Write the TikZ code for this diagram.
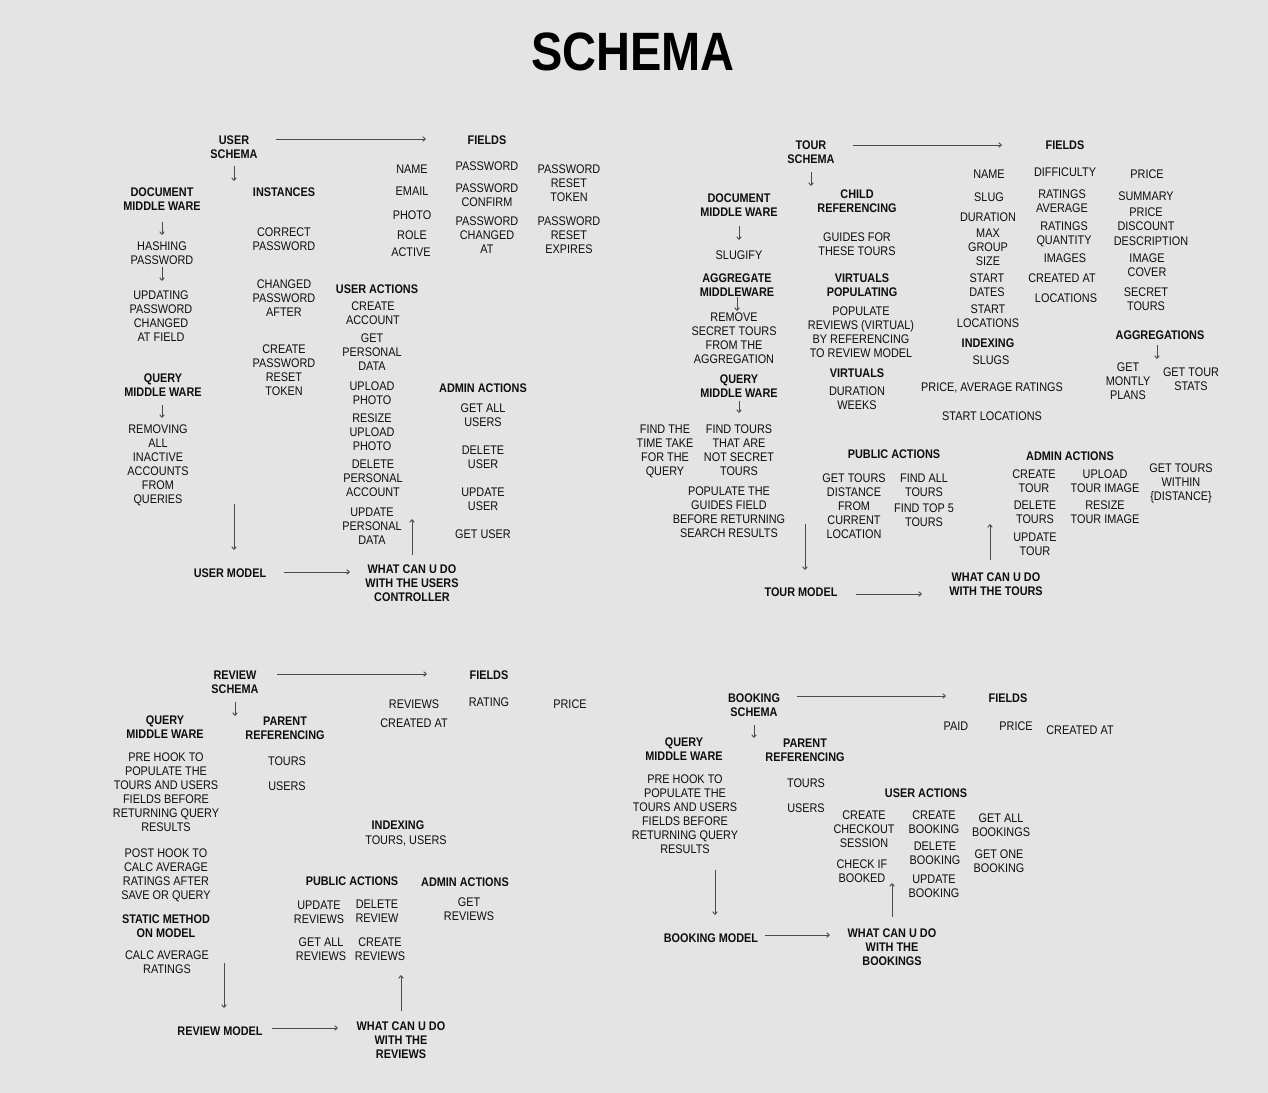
\documentclass[tikz,border=0pt]{standalone}
\usepackage{fontspec}
\setmainfont{Liberation Sans}[FakeStretch=0.87]
\usetikzlibrary{arrows.meta}
\definecolor{bg}{HTML}{E4E4E4}
\definecolor{ink}{HTML}{0E0E0E}
\definecolor{wire}{HTML}{4A4A4A}
\tikzset{
  txt/.style={align=center, inner sep=0pt, text=ink, font=\fontsize{12.5}{14}\selectfont},
  hd/.style={align=center, inner sep=0pt, text=ink, font=\fontsize{12.5}{14}\selectfont\bfseries},
  ttlstyle/.style={inner sep=0pt, text=black, font=\fontsize{54}{60}\selectfont\bfseries},
  arr/.style={draw=wire, line width=0.9pt, -{Straight Barb[length=2.6pt,width=4.6pt]}}
}
\begin{document}
\begin{tikzpicture}[x=1pt,y=-1pt]
\useasboundingbox (0,0) rectangle (1268,1092);
% background reaches past the page edges so no seam is left
\fill[bg] (-6,-6) rectangle (1274,1098);

\node[ttlstyle] (ttl) at (633,52) {SCHEMA};

% ---------------- user schema ----------------
\node[hd]  (uschema) at (234,147) {USER\\SCHEMA};
\node[hd]  (ufields) at (487,140) {FIELDS};
\node[txt] (ufname)  at (412,169) {NAME};
\node[txt] (ufemail) at (412,191) {EMAIL};
\node[txt] (ufphoto) at (412,215) {PHOTO};
\node[txt] (ufrole)  at (412,235) {ROLE};
\node[txt] (ufactive) at (411,252) {ACTIVE};
\node[txt] (ufpw)    at (487,166) {PASSWORD};
\node[txt] (ufpwc)   at (487,195) {PASSWORD\\CONFIRM};
\node[txt] (ufpwch)  at (487,235) {PASSWORD\\CHANGED\\AT};
\node[txt] (ufprt)   at (569,183) {PASSWORD\\RESET\\TOKEN};
\node[txt] (ufpre)   at (569,235) {PASSWORD\\RESET\\EXPIRES};
\node[hd]  (udoc)    at (162,199) {DOCUMENT\\MIDDLE WARE};
\node[txt] (uhash)   at (162,253) {HASHING\\PASSWORD};
\node[txt] (uupd)    at (161,316) {UPDATING\\PASSWORD\\CHANGED\\AT FIELD};
\node[hd]  (uquery)  at (163,385) {QUERY\\MIDDLE WARE};
\node[txt] (uremove) at (158,465) {REMOVING\\ALL\\INACTIVE\\ACCOUNTS\\FROM\\QUERIES};
\node[hd]  (uinst)   at (284,192) {INSTANCES};
\node[txt] (ucorr)   at (284,239) {CORRECT\\PASSWORD};
\node[txt] (uchg)    at (284,298) {CHANGED\\PASSWORD\\AFTER};
\node[txt] (ucreate) at (284,370) {CREATE\\PASSWORD\\RESET\\TOKEN};
\node[hd]  (uact)    at (377,289) {USER ACTIONS};
\node[txt] (uacc)    at (373,313) {CREATE\\ACCOUNT};
\node[txt] (uget)    at (372,352) {GET\\PERSONAL\\DATA};
\node[txt] (uup)     at (372,393) {UPLOAD\\PHOTO};
\node[txt] (ures)    at (372,432) {RESIZE\\UPLOAD\\PHOTO};
\node[txt] (udel)    at (373,478) {DELETE\\PERSONAL\\ACCOUNT};
\node[txt] (updd)    at (372,526) {UPDATE\\PERSONAL\\DATA};
\node[hd]  (uadm)    at (483,388) {ADMIN ACTIONS};
\node[txt] (ugetall) at (483,415) {GET ALL\\USERS};
\node[txt] (udelu)   at (483,457) {DELETE\\USER};
\node[txt] (uupdu)   at (483,499) {UPDATE\\USER};
\node[txt] (ugetu)   at (483,534) {GET USER};
\node[hd]  (umodel)  at (230,573) {USER MODEL};
\node[hd]  (uwhat)   at (412,583) {WHAT CAN U DO\\WITH THE USERS\\CONTROLLER};

\draw[arr] ([shift={(42,-8)}]uschema.center) -- ([shift={(-61,-1)}]ufields.center);
\draw[arr] ([shift={(0,19)}]uschema.center) -- ([shift={(72,-18)}]udoc.center);
\draw[arr] ([shift={(0,23)}]udoc.center) -- ([shift={(0,-18)}]uhash.center);
\draw[arr] ([shift={(0,14)}]uhash.center) -- ([shift={(1,-35)}]uupd.center);
\draw[arr] ([shift={(-1,20)}]uquery.center) -- ([shift={(4,-47)}]uremove.center);
\draw[arr] ([shift={(76,39)}]uremove.center) -- ([shift={(4,-23)}]umodel.center);
\draw[arr] ([shift={(54,-1)}]umodel.center) -- ([shift={(-62,-11)}]uwhat.center);
\draw[arr] ([shift={(0,-28)}]uwhat.center) -- ([shift={(40,-7)}]updd.center);

% ---------------- tour schema ----------------
\node[hd]  (tschema) at (811,152) {TOUR\\SCHEMA};
\node[hd]  (tfields) at (1065,145) {FIELDS};
\node[hd]  (tdoc)    at (739,205) {DOCUMENT\\MIDDLE WARE};
\node[txt] (tslug)   at (739,255) {SLUGIFY};
\node[hd]  (tagg)    at (737,285) {AGGREGATE\\MIDDLEWARE};
\node[txt] (tremove) at (734,338) {REMOVE\\SECRET TOURS\\FROM THE\\AGGREGATION};
\node[hd]  (tquery)  at (739,386) {QUERY\\MIDDLE WARE};
\node[txt] (ttime)   at (665,451) {FIND THE\\TIME TAKE\\FOR THE\\QUERY};
\node[txt] (tfind)   at (739,450) {FIND TOURS\\THAT ARE\\NOT SECRET\\TOURS};
\node[txt] (tpop)    at (729,512) {POPULATE THE\\GUIDES FIELD\\BEFORE RETURNING\\SEARCH RESULTS};
\node[hd]  (tchild)  at (857,201) {CHILD\\REFERENCING};
\node[txt] (tguides) at (857,244) {GUIDES FOR\\THESE TOURS};
\node[hd]  (tvpop)   at (862,285) {VIRTUALS\\POPULATING};
\node[txt] (tvpopx)  at (861,332) {POPULATE\\REVIEWS (VIRTUAL)\\BY REFERENCING\\TO REVIEW MODEL};
\node[hd]  (tvirt)   at (857,373) {VIRTUALS};
\node[txt] (tdur)    at (857,398) {DURATION\\WEEKS};
\node[txt] (tfname)  at (989,174) {NAME};
\node[txt] (tfslug)  at (989,197) {SLUG};
\node[txt] (tfdur)   at (988,217) {DURATION};
\node[txt] (tfmax)   at (988,247) {MAX\\GROUP\\SIZE};
\node[txt] (tfsd)    at (987,285) {START\\DATES};
\node[txt] (tfsl)    at (988,316) {START\\LOCATIONS};
\node[txt] (tfdiff)  at (1065,172) {DIFFICULTY};
\node[txt] (tfra)    at (1062,201) {RATINGS\\AVERAGE};
\node[txt] (tfrq)    at (1064,234) {RATINGS\\QUANTITY};
\node[txt] (tfimg)   at (1065,258) {IMAGES};
\node[txt] (tfcr)    at (1062,278) {CREATED AT};
\node[txt] (tfloc)   at (1066,298) {LOCATIONS};
\node[txt] (tfprice) at (1147,174) {PRICE};
\node[txt] (tfsum)   at (1146,196) {SUMMARY};
\node[txt] (tfpd)    at (1146,219) {PRICE\\DISCOUNT};
\node[txt] (tfdesc)  at (1151,241) {DESCRIPTION};
\node[txt] (tfcov)   at (1147,265) {IMAGE\\COVER};
\node[txt] (tfsec)   at (1146,299) {SECRET\\TOURS};
\node[hd]  (tidx)    at (988,343) {INDEXING};
\node[txt] (tislug)  at (991,360) {SLUGS};
\node[txt] (tipr)    at (992,388) {PRICE, AVERAGE RATINGS};
\node[txt] (tisl)    at (992,416) {START LOCATIONS};
\node[hd]  (tagr)    at (1160,335) {AGGREGATIONS};
\node[txt] (tplans)  at (1128,381) {GET\\MONTLY\\PLANS};
\node[txt] (tstats)  at (1191,379) {GET TOUR\\STATS};
\node[hd]  (tpub)    at (894,454) {PUBLIC ACTIONS};
\node[txt] (tdist)   at (854,506) {GET TOURS\\DISTANCE\\FROM\\CURRENT\\LOCATION};
\node[txt] (tall)    at (924,485) {FIND ALL\\TOURS};
\node[txt] (ttop)    at (924,515) {FIND TOP 5\\TOURS};
\node[hd]  (tadm)    at (1070,456) {ADMIN ACTIONS};
\node[txt] (tcreate) at (1034,481) {CREATE\\TOUR};
\node[txt] (tdelete) at (1035,512) {DELETE\\TOURS};
\node[txt] (tupdate) at (1035,544) {UPDATE\\TOUR};
\node[txt] (tupl)    at (1105,481) {UPLOAD\\TOUR IMAGE};
\node[txt] (tres)    at (1105,512) {RESIZE\\TOUR IMAGE};
\node[txt] (twithin) at (1181,483) {GET TOURS\\WITHIN\\\{DISTANCE\}};
\node[hd]  (tmodel)  at (801,592) {TOUR MODEL};
\node[hd]  (twhat)   at (996,584) {WHAT CAN U DO\\WITH THE TOURS};

\draw[arr] ([shift={(42,-7)}]tschema.center) -- ([shift={(-63,0)}]tfields.center);
\draw[arr] ([shift={(0,20)}]tschema.center) -- ([shift={(-46,-15)}]tchild.center);
\draw[arr] ([shift={(0,21)}]tdoc.center) -- ([shift={(0,-15)}]tslug.center);
\draw[arr] ([shift={(0,12)}]tagg.center) -- ([shift={(3,-27)}]tremove.center);
\draw[arr] ([shift={(0,15)}]tquery.center) -- ([shift={(0,-37)}]tfind.center);
\draw[arr] ([shift={(-3,10)}]tagr.center) -- ([shift={(29,-22)}]tplans.center);
\draw[arr] ([shift={(76,12)}]tpop.center) -- ([shift={(4,-22)}]tmodel.center);
\draw[arr] ([shift={(55,2)}]tmodel.center) -- ([shift={(-74,10)}]twhat.center);
\draw[arr] ([shift={(-6,-24)}]twhat.center) -- ([shift={(-45,-20)}]tupdate.center);

% ---------------- review schema ----------------
\node[hd]  (rschema) at (235,682) {REVIEW\\SCHEMA};
\node[hd]  (rfields) at (489,675) {FIELDS};
\node[txt] (rfrev)   at (414,704) {REVIEWS};
\node[txt] (rfcr)    at (414,723) {CREATED AT};
\node[txt] (rfrat)   at (489,702) {RATING};
\node[txt] (rfpr)    at (570,704) {PRICE};
\node[hd]  (rquery)  at (165,727) {QUERY\\MIDDLE WARE};
\node[txt] (rpre)    at (166,792) {PRE HOOK TO\\POPULATE THE\\TOURS AND USERS\\FIELDS BEFORE\\RETURNING QUERY\\RESULTS};
\node[txt] (rpost)   at (166,875) {POST HOOK TO\\CALC AVERAGE\\RATINGS AFTER\\SAVE OR QUERY};
\node[hd]  (rstat)   at (166,926) {STATIC METHOD\\ON MODEL};
\node[txt] (rcalc)   at (167,962) {CALC AVERAGE\\RATINGS};
\node[hd]  (rparent) at (285,728) {PARENT\\REFERENCING};
\node[txt] (rtours)  at (287,761) {TOURS};
\node[txt] (rusers)  at (287,786) {USERS};
\node[hd]  (ridx)    at (398,825) {INDEXING};
\node[txt] (ridxv)   at (406,841) {TOURS, USERS};
\node[hd]  (rpub)    at (352,881) {PUBLIC ACTIONS};
\node[hd]  (radm)    at (465,882) {ADMIN ACTIONS};
\node[txt] (rupd)    at (319,912) {UPDATE\\REVIEWS};
\node[txt] (rdel)    at (377,911) {DELETE\\REVIEW};
\node[txt] (rall)    at (321,949) {GET ALL\\REVIEWS};
\node[txt] (rcreate) at (380,949) {CREATE\\REVIEWS};
\node[txt] (rget)    at (469,909) {GET\\REVIEWS};
\node[hd]  (rmodel)  at (220,1031) {REVIEW MODEL};
\node[hd]  (rwhat)   at (401,1040) {WHAT CAN U DO\\WITH THE\\REVIEWS};

\draw[arr] ([shift={(42,-8)}]rschema.center) -- ([shift={(-62,-1)}]rfields.center);
\draw[arr] ([shift={(0,20)}]rschema.center) -- ([shift={(-50,-12)}]rparent.center);
\draw[arr] ([shift={(57,1)}]rcalc.center) -- ([shift={(4,-23)}]rmodel.center);
\draw[arr] ([shift={(52,-3)}]rmodel.center) -- ([shift={(-63,-12)}]rwhat.center);
\draw[arr] ([shift={(0,-29)}]rwhat.center) -- ([shift={(21,26)}]rcreate.center);

% ---------------- booking schema ----------------
\node[hd]  (bschema) at (754,705) {BOOKING\\SCHEMA};
\node[hd]  (bfields) at (1008,698) {FIELDS};
\node[txt] (bfpaid)  at (956,726) {PAID};
\node[txt] (bfpr)    at (1016,726) {PRICE};
\node[txt] (bfcr)    at (1080,730) {CREATED AT};
\node[hd]  (bquery)  at (684,749) {QUERY\\MIDDLE WARE};
\node[txt] (bpre)    at (685,814) {PRE HOOK TO\\POPULATE THE\\TOURS AND USERS\\FIELDS BEFORE\\RETURNING QUERY\\RESULTS};
\node[hd]  (bparent) at (805,750) {PARENT\\REFERENCING};
\node[txt] (btours)  at (806,783) {TOURS};
\node[txt] (busers)  at (806,808) {USERS};
\node[hd]  (bact)    at (926,793) {USER ACTIONS};
\node[txt] (bcheckout) at (864,829) {CREATE\\CHECKOUT\\SESSION};
\node[txt] (bcheck)  at (862,871) {CHECK IF\\BOOKED};
\node[txt] (bcreate) at (934,822) {CREATE\\BOOKING};
\node[txt] (bdelete) at (935,853) {DELETE\\BOOKING};
\node[txt] (bupdate) at (934,886) {UPDATE\\BOOKING};
\node[txt] (ball)    at (1001,825) {GET ALL\\BOOKINGS};
\node[txt] (bone)    at (999,861) {GET ONE\\BOOKING};
\node[hd]  (bmodel)  at (711,938) {BOOKING MODEL};
\node[hd]  (bwhat)   at (892,947) {WHAT CAN U DO\\WITH THE\\BOOKINGS};

\draw[arr] ([shift={(43,-9)}]bschema.center) -- ([shift={(-62,-2)}]bfields.center);
\draw[arr] ([shift={(0,20)}]bschema.center) -- ([shift={(-51,-12)}]bparent.center);
\draw[arr] ([shift={(30,56)}]bpre.center) -- ([shift={(4,-23)}]bmodel.center);
\draw[arr] ([shift={(54,-3)}]bmodel.center) -- ([shift={(-62,-12)}]bwhat.center);
\draw[arr] ([shift={(0,-30)}]bwhat.center) -- ([shift={(30,12)}]bcheck.center);
\end{tikzpicture}
\end{document}
